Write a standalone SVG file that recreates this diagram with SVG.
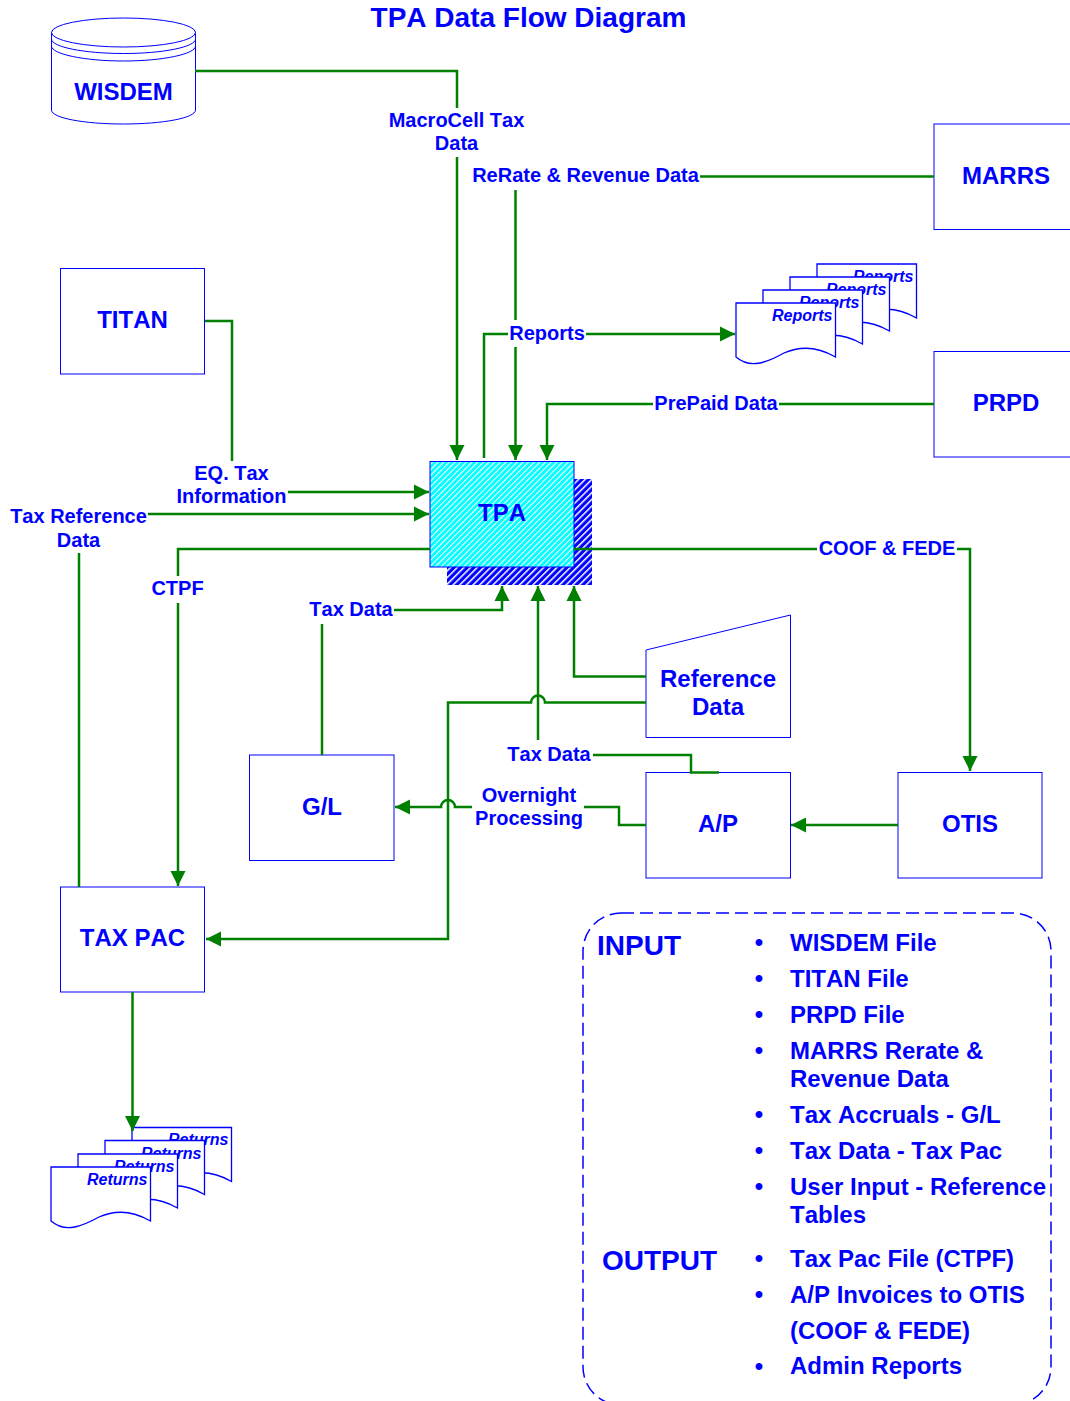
<svg xmlns="http://www.w3.org/2000/svg" xmlns:xlink="http://www.w3.org/1999/xlink" width="1070" height="1401" viewBox="0 0 1070 1401">
<style>
text{font-family:"Liberation Sans",Arial,sans-serif;font-weight:bold;fill:#0000ff;font-kerning:none}
.n{font-size:24px;text-anchor:middle}
.l{font-size:20px;text-anchor:middle}
.li{font-size:24px}
.h{font-size:28px}
.b{font-size:24px;text-anchor:middle}
.d{font-size:16px;font-style:italic}
.box{fill:#fff;stroke:#0000ff;stroke-width:1}
.doc{fill:#fff;stroke:#0000ff;stroke-width:1.300}
.c{fill:none;stroke:#008000;stroke-width:2.500}
.a{marker-end:url(#arrow)}
</style>
<defs>
<marker id="arrow" markerUnits="userSpaceOnUse" markerWidth="16" markerHeight="16" refX="15" refY="8" orient="auto"><path d="M0 0.500L15 8L0 15.500Z" fill="#008000"/></marker>
<pattern id="hc" width="4" height="4" patternUnits="userSpaceOnUse" patternTransform="rotate(45)"><rect width="4" height="4" fill="#00ffff"/><rect width="1.100" height="4" fill="#fff"/></pattern>
<pattern id="hb" width="4.700" height="4.700" patternUnits="userSpaceOnUse" patternTransform="rotate(45)"><rect width="4.700" height="4.700" fill="#0000ff"/><rect width="1.500" height="4.700" fill="#fff"/></pattern>
<path id="doc" class="doc" d="M0 0H99.500V54C84 45 66 42 48 50C30 60 14 66 0 54Z"/>
</defs>
<rect width="1070" height="1401" fill="#fff"/>
<text id="title" x="528.500" y="27" class="h" text-anchor="middle">TPA Data Flow Diagram</text>
<g id="legend">
<rect x="583" y="913" width="468" height="492" rx="38" ry="38" fill="none" stroke="#0000ff" stroke-width="1.500" stroke-dasharray="13 6"/>
<text x="597" y="955" class="h">INPUT</text>
<text x="602" y="1270" class="h">OUTPUT</text>
<g><text x="759" y="950" class="b">•</text><text x="759" y="986" class="b">•</text><text x="759" y="1022" class="b">•</text><text x="759" y="1058" class="b">•</text><text x="759" y="1122" class="b">•</text><text x="759" y="1158" class="b">•</text><text x="759" y="1194" class="b">•</text><text x="759" y="1266" class="b">•</text><text x="759" y="1302" class="b">•</text><text x="759" y="1374" class="b">•</text></g>
<text x="790" y="951" class="li">WISDEM File</text>
<text x="790" y="987" class="li">TITAN File</text>
<text x="790" y="1023" class="li">PRPD File</text>
<text x="790" y="1059" class="li">MARRS Rerate &amp;</text>
<text x="790" y="1087" class="li">Revenue Data</text>
<text x="790" y="1123" class="li">Tax Accruals - G/L</text>
<text x="790" y="1159" class="li">Tax Data - Tax Pac</text>
<text x="790" y="1195" class="li">User Input - Reference</text>
<text x="790" y="1223" class="li">Tables</text>
<text x="790" y="1267" class="li">Tax Pac File (CTPF)</text>
<text x="790" y="1303" class="li">A/P Invoices to OTIS</text>
<text x="790" y="1339" class="li">(COOF &amp; FEDE)</text>
<text x="790" y="1374" class="li">Admin Reports</text>
</g>
<g id="wisdem">
<path class="box" d="M51.500 32V110C51.500 118 84 124 123.500 124S195.500 118 195.500 110V32Z"/>
<ellipse cx="123.500" cy="32.500" rx="72" ry="14.500" class="box"/>
<path class="box" style="fill:none" d="M51.500 39C51.500 47 84 53.500 123.500 53.500S195.500 47 195.500 39M51.500 46C51.500 54 84 61 123.500 61S195.500 54 195.500 46"/>
<text x="123.500" y="100" class="n">WISDEM</text>
</g>
<g id="marrs"><rect x="934" y="124" width="150" height="105.500" class="box"/><text x="1006" y="184" class="n">MARRS</text></g>
<g id="prpd"><rect x="934" y="351.500" width="150" height="105.500" class="box"/><text x="1006" y="411" class="n">PRPD</text></g>
<g id="titan"><rect x="60.500" y="268.500" width="144" height="105.500" class="box"/><text x="132.500" y="328" class="n">TITAN</text></g>
<g id="tpa">
<rect x="447" y="479" width="145" height="106" fill="url(#hb)"/>
<rect x="430" y="461.500" width="144" height="105.500" fill="url(#hc)" stroke="#0000ff" stroke-width="1"/>
<text x="502" y="521" class="n">TPA</text>
</g>
<g id="reference-data"><path class="box" d="M646 650L790.500 615V737.500H646Z"/><text x="718" y="687" class="n">Reference</text><text x="718" y="715" class="n">Data</text></g>
<g id="ap"><rect x="646" y="772.500" width="144.500" height="105.500" class="box"/><text x="718" y="832" class="n">A/P</text></g>
<g id="otis"><rect x="898" y="772.500" width="144" height="105.500" class="box"/><text x="970" y="832" class="n">OTIS</text></g>
<g id="gl"><rect x="249.500" y="755" width="144.500" height="105.500" class="box"/><text x="322" y="815" class="n">G/L</text></g>
<g id="taxpac"><rect x="60.500" y="887" width="144" height="105" class="box"/><text x="132.500" y="946" class="n">TAX PAC</text></g>
<g id="reports">
<use xlink:href="#doc" href="#doc" x="817" y="264"/><text x="853" y="282" class="d">Reports</text>
<use xlink:href="#doc" href="#doc" x="790" y="277"/><text x="826" y="295" class="d">Reports</text>
<use xlink:href="#doc" href="#doc" x="763" y="290"/><text x="799" y="308" class="d">Reports</text>
<use xlink:href="#doc" href="#doc" x="736" y="303"/><text x="772" y="321" class="d">Reports</text>
</g>
<g id="returns">
<use xlink:href="#doc" href="#doc" x="132" y="1127.500"/><text x="168" y="1145" class="d">Returns</text>
<use xlink:href="#doc" href="#doc" x="105" y="1140.500"/><text x="141" y="1159" class="d">Returns</text>
<use xlink:href="#doc" href="#doc" x="78" y="1154"/><text x="114" y="1172" class="d">Returns</text>
<use xlink:href="#doc" href="#doc" x="51" y="1167"/><text x="87" y="1185" class="d">Returns</text>
</g>
<g id="connectors">
<path class="c" d="M195 71H457V108"/>
<path class="c a" d="M457 157V460"/>
<path class="c" d="M934 176.500H700"/>
<path class="c" d="M515.500 190V320"/>
<path class="c a" d="M515.500 347V460"/>
<path class="c" d="M484 458V334H508"/>
<path class="c a" d="M586 334H735"/>
<path class="c" d="M934 404H779"/>
<path class="c a" d="M653 404H547V460"/>
<path class="c" d="M205 321H232V461"/>
<path class="c a" d="M288 492H429"/>
<path class="c a" d="M148 514H429"/>
<path class="c" d="M79 553V887"/>
<path class="c" d="M430 549H178V576"/>
<path class="c a" d="M178 603V886"/>
<path class="c" d="M574 549H817"/>
<path class="c a" d="M957 549H970V771"/>
<path class="c" d="M322 755V624"/>
<path class="c a" d="M394 610H502V586"/>
<path class="c a" d="M538 740V586"/>
<path class="c" d="M593 755H691V772.500H719"/>
<path class="c a" d="M646 676.500H574V586"/>
<path class="c a" d="M646 702.500H545A7 7 0 0 0 531 702.500H448V939H206"/>
<path class="c" d="M646 825H619V807H584"/>
<path class="c a" d="M472 807H455A7 7 0 0 0 441 807H395"/>
<path class="c a" d="M132.500 992V1131"/>
<path class="c a" d="M898 825H791"/>
</g>
<g id="labels">
<text x="456.500" y="127" class="l">MacroCell Tax</text><text x="456.500" y="150" class="l">Data</text>
<text x="585.500" y="182" class="l">ReRate &amp; Revenue Data</text>
<text x="547" y="340" class="l">Reports</text>
<text x="716" y="410" class="l">PrePaid Data</text>
<text x="231.500" y="480" class="l">EQ. Tax</text><text x="231.500" y="503" class="l">Information</text>
<text x="78.500" y="523" class="l">Tax Reference</text><text x="78.500" y="547" class="l">Data</text>
<text x="177.500" y="595" class="l">CTPF</text>
<text x="887" y="555" class="l">COOF &amp; FEDE</text>
<text x="351" y="616" class="l">Tax Data</text>
<text x="549" y="761" class="l">Tax Data</text>
<text x="529" y="802" class="l">Overnight</text><text x="529" y="825" class="l">Processing</text>
</g>
</svg>
